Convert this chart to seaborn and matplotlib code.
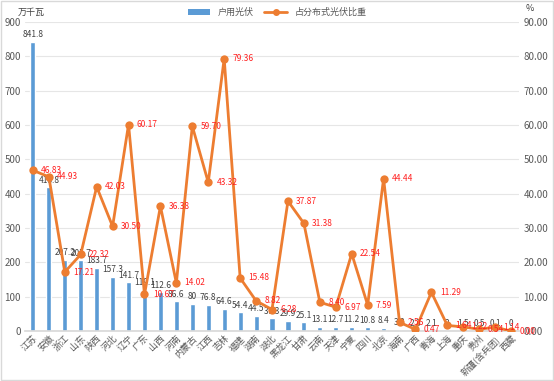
import numpy as np
import pandas as pd
import matplotlib
matplotlib.use('Agg')
import matplotlib.pyplot as plt
import seaborn as sns
from matplotlib.lines import Line2D
from matplotlib.patches import Patch
from matplotlib.ticker import FormatStrFormatter

# 各省户用光伏装机与占分布式光伏比重
provinces = ['江苏', '安徽', '浙江', '山东', '陕西', '河北', '辽宁', '广东', '山西', '河南',
             '内蒙古', '江西', '吉林', '福建', '湖南', '湖北', '黑龙江', '甘肃', '云南', '天津',
             '宁夏', '四川', '北京', '海南', '广西', '青海', '上海', '重庆', '贵州',
             '新疆(含兵团)', '西藏']
household_pv = [841.8, 418.8, 207.2, 205.7, 183.7, 157.3, 141.7, 119.1, 112.6, 86.6,
                80, 76.8, 64.6, 54.4, 44.5, 37.3, 29.9, 25.1, 13.1, 12.7,
                11.2, 10.8, 8.4, 3.2, 2.3, 2.1, 2, 1.5, 0.5, 0.1, 0]
share_pct = [46.83, 44.93, 17.21, 22.32, 42.03, 30.50, 60.17, 10.67, 36.38, 14.02,
             59.70, 43.32, 79.36, 15.48, 8.82, 6.28, 37.87, 31.38, 8.40, 6.97,
             22.54, 7.59, 44.44, 2.56, 0.47, 11.29, 1.64, 1.22, 0.54, 1.14, 0.00]

blue = '#5B9BD5'
orange = '#ED7D31'
grey_txt = '#595959'

sns.set_theme(style='white')
plt.rcParams['font.family'] = ['Noto Sans CJK SC', 'DejaVu Sans']

df = pd.DataFrame({'省份': provinces, '户用光伏': household_pv, '比重': share_pct})
df['pos'] = np.arange(len(df))

fig = plt.figure(figsize=(5.54, 3.81), dpi=100)
ax = fig.add_axes([0.045, 0.131, 0.892, 0.811])

sns.barplot(data=df, x='省份', y='户用光伏', color=blue, width=0.32, saturation=1, ax=ax)
ax.bar_label(ax.containers[0], fmt='%g', fontsize=6, color='#404040', padding=2)
ax.set_ylim(0, 900)
ax.set_yticks(range(0, 901, 100))
ax.set_xlim(-0.5, len(df) - 0.5)
ax.set_xlabel('')
ax.set_ylabel('')
ax.grid(axis='y', color='#E6E6E6', linewidth=0.8)
ax.set_axisbelow(True)
for s in ['top', 'right', 'left']:
    ax.spines[s].set_visible(False)
ax.spines['bottom'].set_color('#D9D9D9')
ax.tick_params(axis='y', labelsize=7, colors=grey_txt, length=0, pad=3)
ax.tick_params(axis='x', labelsize=6.5, colors=grey_txt, length=0, pad=2)
plt.setp(ax.get_xticklabels(), rotation=45, ha='right', rotation_mode='anchor')

ax2 = ax.twinx()
sns.lineplot(data=df, x='pos', y='比重', color=orange, linewidth=2, marker='o',
             markersize=6, markeredgewidth=0, ax=ax2)
for _, r in df.iterrows():
    ax2.annotate(f"{r['比重']:.2f}", (r['pos'], r['比重']), xytext=(6, 0),
                 textcoords='offset points', ha='left', va='center',
                 fontsize=6, color='#FF2020')
ax2.set_ylim(0, 90)
ax2.set_yticks(range(0, 91, 10))
ax2.yaxis.set_major_formatter(FormatStrFormatter('%.2f'))
ax2.set_ylabel('')
for s in ['top', 'right', 'left', 'bottom']:
    ax2.spines[s].set_visible(False)
ax2.tick_params(axis='y', labelsize=7, colors=grey_txt, length=0, pad=3)
ax2.grid(False)

fig.text(0.032, 0.955, '万千瓦', fontsize=6.5, color='#404040', ha='left', va='bottom')
fig.text(0.948, 0.965, '%', fontsize=6.5, color='#404040', ha='left', va='bottom')

handles = [Patch(facecolor=blue, edgecolor='none'),
           Line2D([0], [0], color=orange, linewidth=2, marker='o', markersize=4)]
fig.legend(handles, ['户用光伏', '占分布式光伏比重'], loc='upper center',
           bbox_to_anchor=(0.5, 1.0), ncol=2, frameon=False, fontsize=6.5,
           labelcolor=grey_txt, handlelength=2.5, columnspacing=1.2)

fig.patches.append(plt.Rectangle((0.002, 0.002), 0.996, 0.996, transform=fig.transFigure,
                                 fill=False, edgecolor='#D9D9D9', linewidth=1))

fig.savefig('out.png', dpi=100)
